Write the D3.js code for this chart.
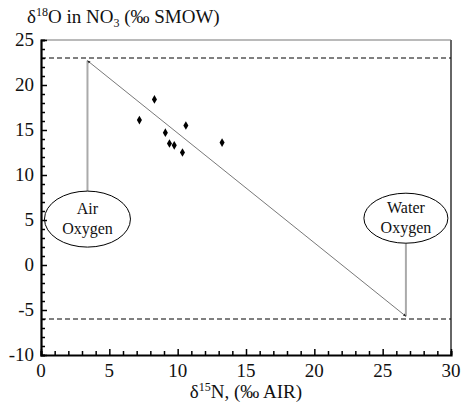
<!DOCTYPE html>
<html>
<head>
<meta charset="utf-8">
<script src="https://cdn.jsdelivr.net/npm/d3@7"></script>
<style>
  body { margin: 0; background: #fff; }
</style>
</head>
<body>
<div id="wrapper"></div>
<script>
const sampleX = [7.2, 8.3, 9.1, 9.4, 9.75, 10.35, 10.6, 13.25];
const sampleY = [16.1, 18.4, 14.7, 13.5, 13.3, 12.5, 15.5, 13.6];

const endNames = [["Air", "Oxygen"], ["Water", "Oxygen"]];
const endX = [3.4, 26.7];
const endY = [22.7, -5.7];
const labelY = [5.1, 5.2];

const limitY = [23, -6];

const xTicks = [0, 5, 10, 15, 20, 25, 30];
const yTicks = [-10, -5, 0, 5, 10, 15, 20, 25];

const serif = "Liberation Serif";

function drawChart() {
  let dimensions = {
    width: 462,
    height: 406,
    margin: { top: 40, right: 11, bottom: 51, left: 41 },
  };
  dimensions.boundedWidth = dimensions.width - dimensions.margin.left - dimensions.margin.right;
  dimensions.boundedHeight = dimensions.height - dimensions.margin.top - dimensions.margin.bottom;

  const svg = d3.select("#wrapper").append("svg")
    .attr("width", dimensions.width)
    .attr("height", dimensions.height);

  const bounds = svg.append("g")
    .attr("transform", `translate(${dimensions.margin.left},${dimensions.margin.top})`);

  const xScale = d3.scaleLinear().domain([0, 30]).range([0, dimensions.boundedWidth]);
  const yScale = d3.scaleLinear().domain([-10, 25]).range([dimensions.boundedHeight, 0]);

  // frame top / right
  bounds.append("line")
    .attr("x1", 0).attr("x2", dimensions.boundedWidth)
    .attr("y1", 0).attr("y2", 0)
    .attr("stroke", "#777").attr("stroke-width", 1.2);
  bounds.append("line")
    .attr("x1", dimensions.boundedWidth).attr("x2", dimensions.boundedWidth)
    .attr("y1", 0).attr("y2", dimensions.boundedHeight)
    .attr("stroke", "#666").attr("stroke-width", 2);

  // dashed limits
  bounds.selectAll(".limit").data(limitY).join("line")
    .attr("x1", 0).attr("x2", dimensions.boundedWidth)
    .attr("y1", d => yScale(d)).attr("y2", d => yScale(d))
    .attr("stroke", "#000").attr("stroke-width", 1)
    .attr("stroke-dasharray", "5,3");

  // vertical connectors
  const ellRy = [28, 25];
  const ellRx = [43, 42];
  bounds.selectAll(".conn").data(endX).join("line")
    .attr("x1", d => xScale(d)).attr("x2", d => xScale(d))
    .attr("y1", (d, i) => yScale(endY[i]))
    .attr("y2", (d, i) => yScale(labelY[i]) + (i === 0 ? -ellRy[i] : ellRy[i]))
    .attr("stroke", "#aaa").attr("stroke-width", 2);

  // mixing line with arrowheads
  svg.append("defs").append("marker")
    .attr("id", "arr")
    .attr("viewBox", "0 0 10 10")
    .attr("refX", 9).attr("refY", 5)
    .attr("markerWidth", 4).attr("markerHeight", 4)
    .attr("orient", "auto-start-reverse")
    .append("path").attr("d", "M0,1L10,5L0,9Z").attr("fill", "#222");

  const mixLine = d3.line().x((d, i) => xScale(d)).y((d, i) => yScale(endY[i]));
  bounds.append("path")
    .attr("d", mixLine(endX))
    .attr("fill", "none")
    .attr("stroke", "#555")
    .attr("stroke-width", 0.8)
    .attr("marker-start", "url(#arr)")
    .attr("marker-end", "url(#arr)");

  // labels in ellipses
  const labels = bounds.selectAll(".lab").data(endX).join("g")
    .attr("transform", (d, i) => `translate(${xScale(d)},${yScale(labelY[i])})`);
  labels.append("ellipse")
    .attr("rx", (d, i) => ellRx[i]).attr("ry", (d, i) => ellRy[i])
    .attr("fill", "#fff").attr("stroke", "#000").attr("stroke-width", 1);
  labels.append("text")
    .style("font-family", serif)
    .attr("text-anchor", "middle")
    .attr("font-size", 16)
    .attr("fill", "#111")
    .selectAll("tspan").data((d, i) => endNames[i]).join("tspan")
    .attr("x", 0)
    .attr("y", (d, j) => j === 0 ? -5 : 15)
    .text(d => d);

  // sample points
  bounds.selectAll(".pt").data(sampleX).join("path")
    .attr("d", d3.symbol(d3.symbolDiamond, 22))
    .attr("transform", (d, i) => `translate(${xScale(d)},${yScale(sampleY[i])})`)
    .attr("fill", "#000");

  // axes
  const xAxis = bounds.append("g")
    .attr("transform", `translate(0,${dimensions.boundedHeight})`);
  xAxis.call(d3.axisBottom(xScale).tickValues(d3.range(0, 31, 1)).tickSize(-4).tickFormat(""));
  xAxis.call(g => g.selectAll(".tick line").filter(d => d % 5 === 0).attr("y2", -6));
  xAxis.select(".domain").attr("stroke-width", 2.2);
  xAxis.selectAll(".tick line").attr("stroke-width", 1.5);
  xAxis.selectAll(".xl").data(xTicks).join("text")
    .style("font-family", serif)
    .attr("x", d => xScale(d)).attr("y", 22)
    .attr("text-anchor", "middle").attr("font-size", 19).attr("fill", "#111")
    .text(d => d);

  const yAxis = bounds.append("g");
  yAxis.call(d3.axisLeft(yScale).tickValues(d3.range(-10, 26, 1)).tickSize(-4).tickFormat(""));
  yAxis.call(g => g.selectAll(".tick line").filter(d => d % 5 === 0).attr("x2", 6));
  yAxis.select(".domain").attr("stroke-width", 2.2);
  yAxis.selectAll(".tick line").attr("stroke-width", 1.5);
  yAxis.selectAll(".yl").data(yTicks).join("text")
    .style("font-family", serif)
    .attr("x", -7).attr("y", d => yScale(d) + 6)
    .attr("text-anchor", "end").attr("font-size", 19).attr("fill", "#111")
    .text(d => d);

  // titles
  const yTitle = svg.append("text")
    .style("font-family", serif)
    .attr("x", 27).attr("y", 23)
    .attr("font-size", 19).attr("fill", "#111");
  yTitle.append("tspan").text("δ");
  yTitle.append("tspan").attr("font-size", 12).attr("dy", -7).text("18");
  yTitle.append("tspan").attr("dy", 7).text("O in NO");
  yTitle.append("tspan").attr("font-size", 12).attr("dy", 4).text("3");
  yTitle.append("tspan").attr("dy", -4).text(" (‰ SMOW)");

  const xTitle = svg.append("text")
    .style("font-family", serif)
    .attr("x", 246).attr("y", 398)
    .attr("text-anchor", "middle")
    .attr("font-size", 19).attr("fill", "#111");
  xTitle.append("tspan").text("δ");
  xTitle.append("tspan").attr("font-size", 12).attr("dy", -7).text("15");
  xTitle.append("tspan").attr("dy", 7).text("N, (‰ AIR)");
}

drawChart();
</script>
</body>
</html>
